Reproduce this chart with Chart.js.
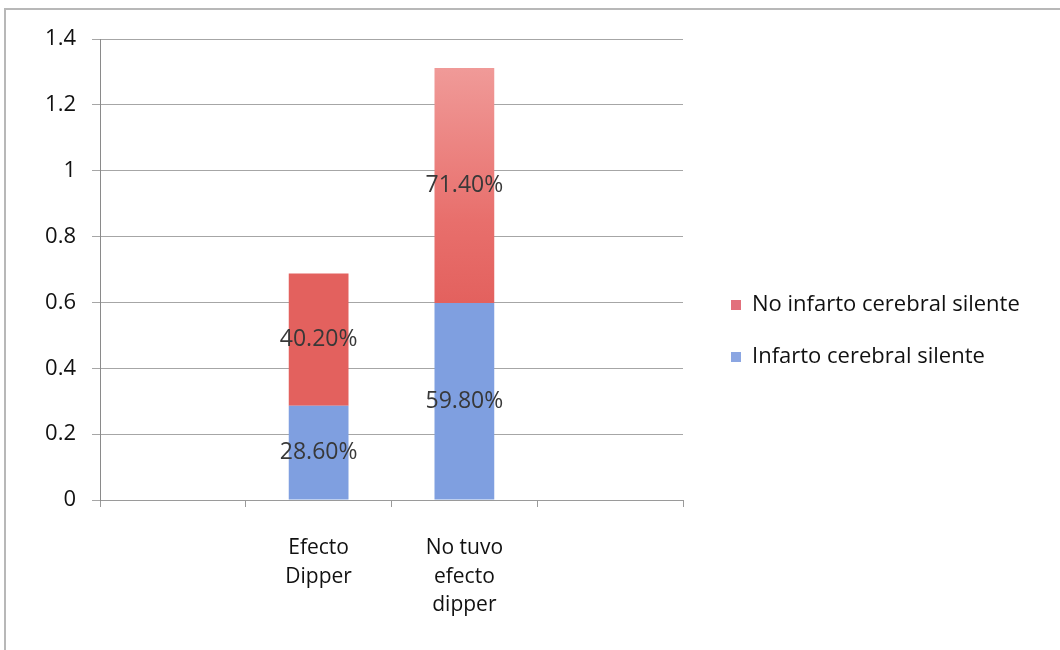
<!DOCTYPE html>
<html lang="es">
<head>
  <meta charset="UTF-8">
  <title>Infarto cerebral silente y efecto dipper</title>
  <script src="https://cdn.jsdelivr.net/npm/chart.js"></script>
  <style>
    body { margin: 0; background: #fff; }
    #wrap { position: relative; width: 1060px; height: 650px; }
  </style>
</head>
<body>
  <div id="wrap"><canvas id="myChart"></canvas></div>

  <script>
    // categories (first and last slots are empty)
    let categories = ['', ['Efecto', 'Dipper'], ['No tuvo', 'efecto', 'dipper'], ''];
    // series values
    let infarto = [null, 0.286, 0.598, null];
    let noInfarto = [null, 0.402, 0.714, null];
    let seriesNames = ['Infarto cerebral silente', 'No infarto cerebral silente'];
    // y axis
    let yMin = 0, yMax = 1.4, yStep = 0.2;

    let fontFamily = '"Open Sans", Lato, sans-serif';
    let red = '#e3615e';
    let blue = '#7f9fe0';

    // percentage text in the middle of each segment
    let valueLabels = {
      id: 'valueLabels',
      afterDatasetsDraw(chart) {
        let c = chart.ctx;
        c.save();
        c.font = '500 23px ' + fontFamily;
        c.fillStyle = '#383838';
        c.textAlign = 'center';
        c.textBaseline = 'middle';
        chart.data.datasets.forEach((ds, i) => {
          chart.getDatasetMeta(i).data.forEach((bar, j) => {
            let v = ds.data[j];
            if (v == null) return;
            let p = bar.getCenterPoint();
            c.fillText((v * 100).toFixed(2) + '%', p.x, p.y);
          });
        });
        c.restore();
      }
    };

    // legend on the right, top item is the upper series
    let sideLegend = {
      id: 'sideLegend',
      afterDraw(chart) {
        let c = chart.ctx;
        let x = chart.chartArea.right + 48;
        let midY = chart.height / 2 + 6;
        let items = [
          { text: seriesNames[1], color: '#e2707c' },
          { text: seriesNames[0], color: '#8ba6e2' }
        ];
        c.save();
        c.font = '500 22px ' + fontFamily;
        c.textBaseline = 'middle';
        items.forEach((it, k) => {
          let y = midY - 26 + k * 52;
          c.fillStyle = it.color;
          c.fillRect(x, y - 5, 10, 10);
          c.fillStyle = '#111';
          c.fillText(it.text, x + 21, y);
        });
        c.restore();
      }
    };

    // thin frame on the left and top
    let frame = {
      id: 'frame',
      beforeDraw(chart) {
        let c = chart.ctx;
        c.save();
        c.strokeStyle = '#b8b8b8';
        c.lineWidth = 2;
        c.beginPath();
        c.moveTo(5, chart.height);
        c.lineTo(5, 9);
        c.lineTo(chart.width, 9);
        c.stroke();
        c.restore();
      }
    };

    function redFill(ctx) {
      if (ctx.dataIndex !== 2 || !ctx.chart.chartArea) return red;
      let y = ctx.chart.scales.y;
      let bottom = y.getPixelForValue(infarto[2]);
      let top = y.getPixelForValue(infarto[2] + noInfarto[2]);
      let g = ctx.chart.ctx.createLinearGradient(0, bottom, 0, top);
      g.addColorStop(0, '#e3615e');
      g.addColorStop(0.35, '#e86f6c');
      g.addColorStop(1, '#f09a98');
      return g;
    }

    let ctx = document.getElementById('myChart').getContext('2d');

    new Chart(ctx, {
      type: 'bar',
      data: {
        labels: categories,
        datasets: [
          {
            label: seriesNames[0],
            data: infarto,
            backgroundColor: blue,
            barPercentage: 0.41,
            categoryPercentage: 1.0
          },
          {
            label: seriesNames[1],
            data: noInfarto,
            backgroundColor: redFill,
            barPercentage: 0.41,
            categoryPercentage: 1.0
          }
        ]
      },
      options: {
        responsive: true,
        maintainAspectRatio: false,
        animation: false,
        layout: { padding: { top: 39, right: 377, bottom: 0, left: 0 } },
        plugins: {
          legend: { display: false },
          tooltip: { enabled: false }
        },
        scales: {
          x: {
            stacked: true,
            grid: { display: true, drawOnChartArea: false, tickLength: 7, color: '#9a9a9a' },
            border: { color: '#9a9a9a' },
            ticks: {
              padding: 27,
              color: '#111',
              font: { family: fontFamily, size: 21, weight: '500', lineHeight: 1.36 }
            },
            afterFit(scale) { scale.height = 150; }
          },
          y: {
            stacked: true,
            min: yMin,
            max: yMax,
            grid: { color: '#a6a6a6', tickLength: 8 },
            border: { color: '#8a8a8a' },
            ticks: {
              stepSize: yStep,
              padding: 16,
              color: '#111',
              font: { family: fontFamily, size: 22, weight: '500' },
              callback: v => String(Number(v.toFixed(1)))
            },
            afterFit(scale) { scale.width = 100; }
          }
        }
      },
      plugins: [frame, valueLabels, sideLegend]
    });
  </script>
</body>
</html>
